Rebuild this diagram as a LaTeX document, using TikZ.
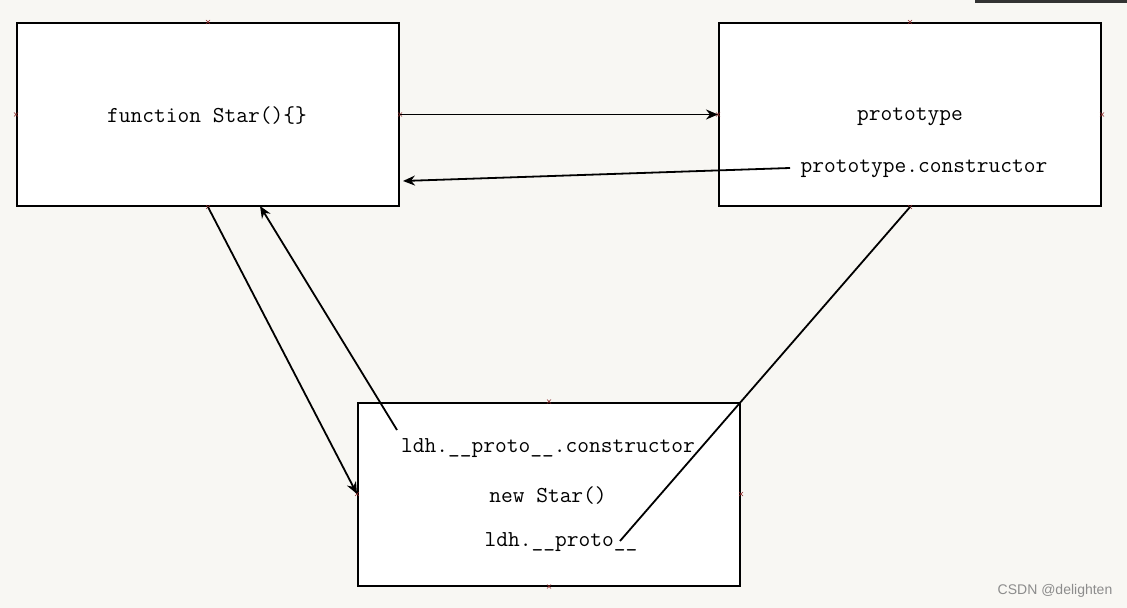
\documentclass[tikz,border=0pt]{standalone}
\usepackage{fontspec}
\setsansfont{Liberation Sans}
\usetikzlibrary{arrows.meta}
\definecolor{paper}{RGB}{248,247,243}
\definecolor{tickred}{RGB}{140,40,40}

\begin{document}
\begin{tikzpicture}[x=0.5pt,y=-0.5pt,>={Stealth[length=6pt,width=5pt]},
 font=\ttfamily\fontsize{11.4}{13}\selectfont,
 box/.style={draw,fill=white,line width=1pt,minimum width=191pt,minimum height=91.5pt,inner sep=0pt},
 txt/.style={inner sep=0pt},
 arr/.style={->,line width=0.9pt},
 tick/.style={draw=tickred,line width=0.3pt}]
\useasboundingbox[fill=paper] (0,0) rectangle (1127,608);
\fill[black!80] (975,0) rectangle (1127,3);
% The three boxes.
\node[box] (fn) at (208,114.5) {};
\node[box] (proto) at (910,114.5) {};
\node[box] (inst) at (549,494) {};
\node[txt] (fntext) at (207,116) {function Star()\{\}};
\node[txt] (ptext) at (910,117) {prototype};
\node[txt] (pctext) at (924,169) {prototype.constructor};
\node[txt] (ctext) at (548,448) {ldh.\_\_proto\_\_.constructor};
\node[txt] (ntext) at (548,496) {new Star()};
\node[txt] (ltext) at (561,542) {ldh.\_\_proto\_\_};
% Small connection marks on the box edges.
\foreach \b in {fn,proto,inst}
 \foreach \a in {north,south,east,west}
  \draw[tick] ([shift={(-2,-2)}]\b.\a) -- ++(4,4) ([shift={(-2,2)}]\b.\a) -- ++(4,-4);
\coordinate (pcstart) at (790,168);
\coordinate (fnin) at (403,181);
\coordinate (fnbot) at (260,206);
\coordinate (cstart) at (397,430);
\coordinate (lend) at (620,541);
\draw[arr] (fn.east) -- (proto.west);
\draw[arr] (pcstart) -- (fnin);
\draw[arr] (fn.south) -- (inst.west);
\draw[arr] (cstart) -- (fnbot);
\draw[line width=0.9pt] (proto.south) -- (lend);
\node[font=\sffamily\fontsize{7}{8}\selectfont,text=black!45] (wm) at (1055,591) {CSDN @delighten};
\end{tikzpicture}
\end{document}
